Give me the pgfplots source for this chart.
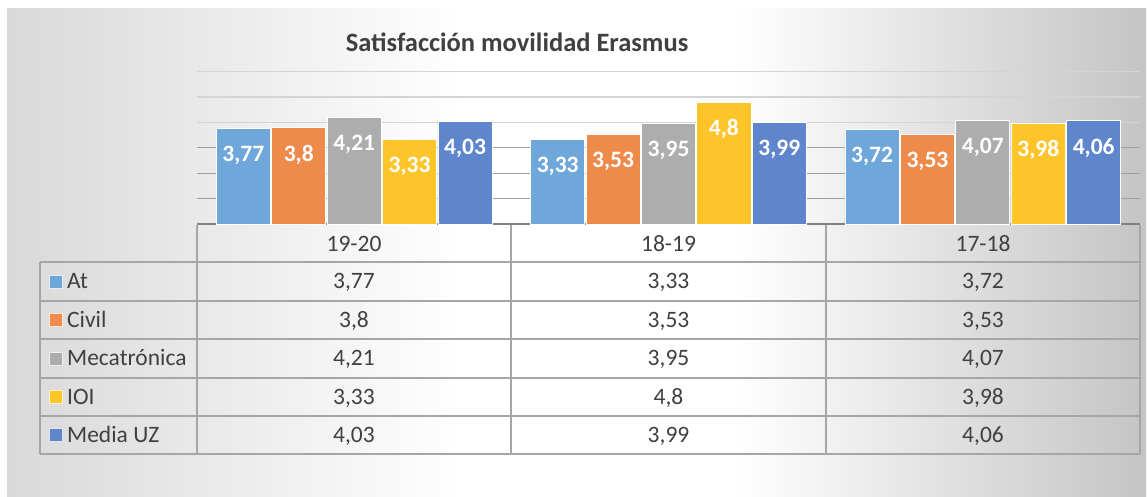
\documentclass[border=0pt]{standalone}
\usepackage{pgfplots}
\pgfplotsset{compat=1.18}
\usepackage{fontspec}
\setmainfont{Carlito}

\definecolor{cAt}{HTML}{6FA7DB}
\definecolor{cCivil}{HTML}{EE8B4B}
\definecolor{cMeca}{HTML}{ADADAD}
\definecolor{cIOI}{HTML}{FEC52A}
\definecolor{cMedia}{HTML}{5F85CC}
\definecolor{txt}{HTML}{404040}
\definecolor{rule}{HTML}{A6A6A6}

% path bounding box maps onto 25bp..75bp
\pgfdeclarehorizontalshading{bg}{100bp}{color(0bp)=(black!15); color(25bp)=(black!15); color(45bp)=(white); color(57bp)=(white); color(75bp)=(black!23); color(100bp)=(black!23)}

\begin{document}
\begin{tikzpicture}[x=1pt,y=1pt]
% background
\fill[white] (0,0) rectangle (1147,496);
\shade[shading=bg] (7,0) rectangle (1146,487);

\node[anchor=base, text=txt, font=\bfseries\fontsize{26.5}{26.5}\selectfont] at (517,444.3) {Satisfacción movilidad Erasmus};

\begin{axis}[
    at={(197pt,272pt)}, anchor=south west,
    width=943pt, height=152.4pt, scale only axis,
    ybar, bar width=0.172,
    xmin=-0.5, xmax=2.5, ymin=0, ymax=6,
    xtick=\empty,
    ytick={1,2,3}, yticklabels={},
    extra y ticks={4,5,6}, extra y tick labels={},
    extra y tick style={grid style={draw=black!17, line width=1.3pt}},
    ymajorgrids,
    grid style={draw=black!38, line width=1.3pt},
    major tick length=0,
    axis x line*=bottom, axis y line*=left,
    y axis line style={draw=none},
    x axis line style={draw=black!50, line width=2pt},
    clip=false,
    nodes near coords,
    /pgf/number format/use comma,
    /pgf/number format/assume math mode=true,
    every node near coord/.append style={anchor=center, yshift=-27pt,
        text=white, font=\bfseries\fontsize{23.5}{23.5}\selectfont},
    every axis plot/.append style={draw=white, line width=0.8pt},
]
\addplot[fill=cAt, bar shift=-0.3526] coordinates {(0,3.77) (1,3.33) (2,3.72)};
\addplot[fill=cCivil, bar shift=-0.1763] coordinates {(0,3.8) (1,3.53) (2,3.53)};
\addplot[fill=cMeca, bar shift=0] coordinates {(0,4.21) (1,3.95) (2,4.07)};
\addplot[fill=cIOI, bar shift=0.1763] coordinates {(0,3.33) (1,4.8) (2,3.98)};
\addplot[fill=cMedia, bar shift=0.3526] coordinates {(0,4.03) (1,3.99) (2,4.06)};
\end{axis}

% data table
\begin{scope}[draw=rule, line width=1.5pt]
\foreach \y in {234,195,157,118,80,42} \draw (40,\y) -- (1140,\y);
\draw (40,234) -- (40,42);
\foreach \x in {197,511,826,1140} \draw (\x,271) -- (\x,42);
\end{scope}

\begin{scope}[every node/.style={anchor=base, text=txt, font=\fontsize{23.5}{23.5}\selectfont}]
\node at (354,245) {19-20};
\node at (668.5,245) {18-19};
\node at (983,245) {17-18};
% rows
\node at (354,207.5) {3,77}; \node at (668.5,207.5) {3,33}; \node at (983,207.5) {3,72};
\node at (354,169) {3,8};    \node at (668.5,169) {3,53};   \node at (983,169) {3,53};
\node at (354,130.5) {4,21}; \node at (668.5,130.5) {3,95}; \node at (983,130.5) {4,07};
\node at (354,92) {3,33};    \node at (668.5,92) {4,8};     \node at (983,92) {3,98};
\node at (354,54) {4,03};    \node at (668.5,54) {3,99};    \node at (983,54) {4,06};
\end{scope}

% legend keys
\foreach \yc/\c/\t in {214.5/cAt/At, 176/cCivil/Civil, 137.5/cMeca/Mecatrónica, 99/cIOI/IOI, 61/cMedia/Media UZ}{
  \fill[\c, draw=white!80!\c, line width=0.8pt] (49,\yc-6.5) rectangle ++(13,13);
  \node[anchor=base west, inner sep=0pt, text=txt, font=\fontsize{23.5}{23.5}\selectfont] at (67,\yc-7) {\t};
}
\end{tikzpicture}
\end{document}
